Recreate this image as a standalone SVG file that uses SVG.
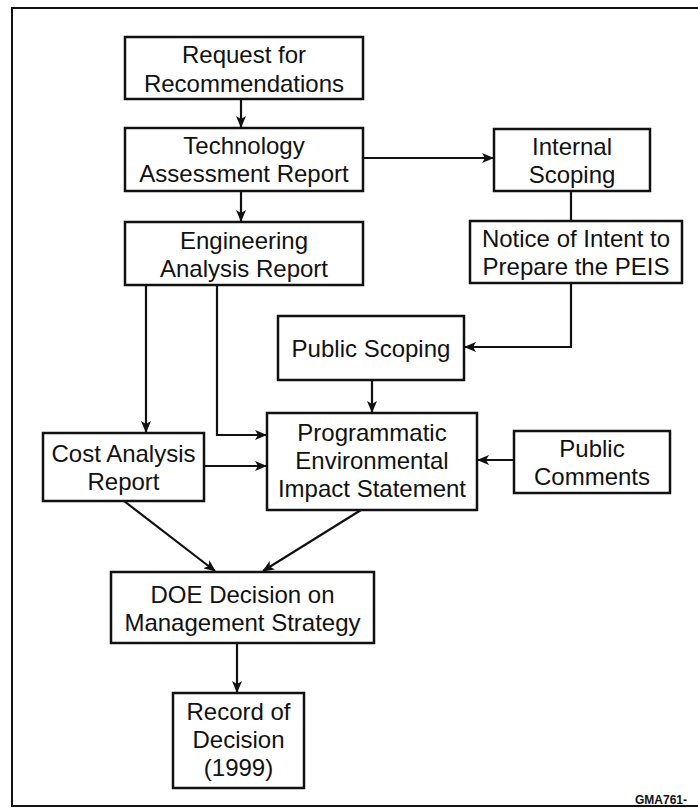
<svg xmlns="http://www.w3.org/2000/svg" width="698" height="808" viewBox="0 0 698 808">
<defs>
<marker id="ah" markerWidth="12" markerHeight="10" refX="11" refY="5" orient="auto" markerUnits="userSpaceOnUse">
<path d="M0,0 L12,5 L0,10 L3,5 Z" fill="#111"/>
</marker>
<style>
.box{fill:#fff;stroke:#111;stroke-width:2.5}
.t{font-family:"Liberation Sans",Arial,sans-serif;font-size:24px;fill:#111;text-anchor:middle}
.c{fill:none;stroke:#111;stroke-width:2.2}
.a{marker-end:url(#ah)}
.frame{fill:none;stroke:#111;stroke-width:2}
.code{font-family:"Liberation Sans",Arial,sans-serif;font-size:12px;font-weight:bold;fill:#111}
</style>
</defs>
<rect width="698" height="808" fill="#fff"/>
<path class="frame" d="M698,8 H12 V806 H698"/>
<text class="code" x="635" y="804">GMA761-</text>
<g id="connectors">
<path class="c a" d="M241,99 V127"/>
<path class="c a" d="M241,191 V221"/>
<path class="c a" d="M363,158 H493"/>
<path class="c" d="M571,191 V221"/>
<path class="c a" d="M571,283 V347 H465"/>
<path class="c a" d="M146,285 V432"/>
<path class="c a" d="M217,285 V435 H266"/>
<path class="c a" d="M372,380 V412"/>
<path class="c a" d="M204,466 H266"/>
<path class="c a" d="M514,460 H478"/>
<path class="c a" d="M124,501 L215,571"/>
<path class="c a" d="M361,510 L263,571"/>
<path class="c a" d="M237,643 V692"/>
</g>
<g id="request">
<rect class="box" x="125" y="37" width="238" height="62"/>
<text class="t" x="244" y="63">Request for</text>
<text class="t" x="244" y="92">Recommendations</text>
</g>
<g id="tech">
<rect class="box" x="125" y="128" width="238" height="63"/>
<text class="t" x="244" y="154">Technology</text>
<text class="t" x="244" y="182">Assessment Report</text>
</g>
<g id="internal">
<rect class="box" x="494" y="129" width="156" height="62"/>
<text class="t" x="572" y="155">Internal</text>
<text class="t" x="572" y="183">Scoping</text>
</g>
<g id="engineering">
<rect class="box" x="125" y="222" width="238" height="63"/>
<text class="t" x="244" y="249">Engineering</text>
<text class="t" x="244" y="277">Analysis Report</text>
</g>
<g id="notice">
<rect class="box" x="470" y="221" width="212" height="62"/>
<text class="t" x="576" y="247">Notice of Intent to</text>
<text class="t" x="576" y="275">Prepare the PEIS</text>
</g>
<g id="public-scoping">
<rect class="box" x="278" y="316" width="186" height="64"/>
<text class="t" x="371" y="357">Public Scoping</text>
</g>
<g id="peis">
<rect class="box" x="267" y="413" width="210" height="97"/>
<text class="t" x="372" y="441">Programmatic</text>
<text class="t" x="372" y="469">Environmental</text>
<text class="t" x="372" y="497">Impact Statement</text>
</g>
<g id="cost">
<rect class="box" x="43" y="433" width="161" height="68"/>
<text class="t" x="123.5" y="462">Cost Analysis</text>
<text class="t" x="123.5" y="490">Report</text>
</g>
<g id="public-comments">
<rect class="box" x="514" y="431" width="156" height="62"/>
<text class="t" x="592" y="457">Public</text>
<text class="t" x="592" y="485">Comments</text>
</g>
<g id="doe">
<rect class="box" x="111" y="572" width="263" height="71"/>
<text class="t" x="242.5" y="603">DOE Decision on</text>
<text class="t" x="242.5" y="631">Management Strategy</text>
</g>
<g id="record">
<rect class="box" x="173" y="693" width="131" height="95"/>
<text class="t" x="238.5" y="720">Record of</text>
<text class="t" x="238.5" y="748">Decision</text>
<text class="t" x="238.5" y="776">(1999)</text>
</g>
</svg>
